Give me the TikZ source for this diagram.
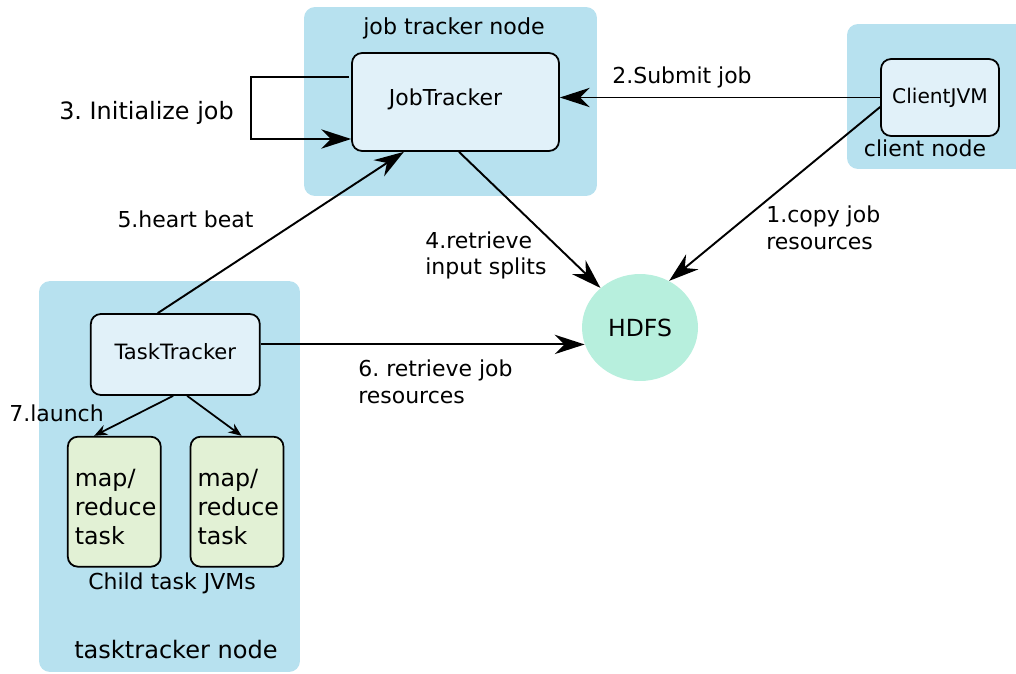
\documentclass[tikz,border=0pt]{standalone}
\usepackage{fontspec}
\setmainfont{DejaVu Sans}
\usetikzlibrary{arrows.meta,shapes.geometric}
\definecolor{areablue}{HTML}{B7E1EF}
\definecolor{boxfill}{HTML}{E1F1F9}
\definecolor{hdfsfill}{HTML}{B7EFDD}
\definecolor{taskfill}{HTML}{E2F1D5}
\frenchspacing
\begin{document}
\begin{tikzpicture}[x=0.02cm,y=-0.02cm,
  area/.style={fill=areablue,rounded corners=0.22cm,inner sep=0pt},
  proc/.style={draw,line width=1pt,fill=boxfill,rounded corners=0.2cm,inner sep=0pt},
  lbl/.style={font=\fontsize{12.5}{15.2}\selectfont,inner sep=0pt},
  flow/.style={line width=1.1pt,-{Stealth[length=17pt,width=11pt,inset=5.5pt]}},
  spawn/.style={line width=1pt,-{Stealth[length=7.5pt,width=6pt,inset=2.5pt]}}]
\useasboundingbox (0,0) rectangle (1016,673);

\node[area,minimum width=5.86cm,minimum height=3.78cm] (jtarea) at (450.5,101.5) {};
\node[area,minimum width=3.66cm,minimum height=2.9cm] (clarea) at (938.5,96.5) {};
\node[area,minimum width=5.22cm,minimum height=7.82cm] (ttarea) at (169.5,476.5) {};

\node[lbl,font=\fontsize{12.6}{15}\selectfont] (jtname) at (454,28) {job tracker node};
\node[proc,minimum width=4.14cm,minimum height=1.96cm,font=\fontsize{12.5}{15}\selectfont] (jt) at (455.5,102) {JobTracker\hspace*{0.4cm}\rule[-0.2cm]{0pt}{0.2cm}};
\node[proc,minimum width=2.36cm,minimum height=1.54cm,font=\fontsize{11.5}{14}\selectfont] (cj) at (940,97.5) {ClientJVM};
\node[lbl] (clname) at (925,148) {client node};
\node[ellipse,fill=hdfsfill,minimum width=2.32cm,minimum height=2.14cm,inner sep=0pt,font=\fontsize{13.4}{16}\selectfont] (hdfs) at (640,327.5) {HDFS};
\node[proc,minimum width=3.38cm,minimum height=1.62cm,font=\fontsize{12}{15}\selectfont] (tt) at (175.3,354.5) {TaskTracker\rule[-0.14cm]{0pt}{0.14cm}};
\foreach \i/\x in {1/114.3,2/237}
  \node[proc,fill=taskfill,minimum width=1.86cm,minimum height=2.6cm,text width=1.58cm,align=left,font=\fontsize{13.5}{16.5}\selectfont] (task\i) at (\x,501.7) {\rule{0pt}{15.5pt}map/\\reduce\\task};
\node[lbl] (childname) at (172,583) {Child task JVMs};
\node[lbl,font=\fontsize{13.7}{16}\selectfont] (ttname) at (176,650) {tasktracker node};

\node[lbl,font=\fontsize{13.6}{16}\selectfont] (initlbl) at (146.5,113) {3. Initialize job};
\node[lbl] (submitlbl) at (682,77) {2.Submit job};
\node[lbl,anchor=west,align=left] (copylbl) at (766,228) {1.copy job\\resources};
\node[lbl,anchor=west,align=left] (splitlbl) at (425,255.5) {4.retrieve\\input splits};
\node[lbl] (beatlbl) at (185.5,219) {5.heart beat};
\node[lbl,anchor=west,align=left] (reslbl) at (358,381.5) {6. retrieve job\\resources};
\node[lbl] (launchlbl) at (56.5,413) {7.launch};

\draw[flow] (cj.west) -- (cj.west -| jt.east);
\draw[flow] (cj.189) -- (hdfs.58);
\draw[flow] (jt.west) ++(-2,-25) -- ++(-98,0) -- ++(0,62) -- ++(100,0);
\draw[flow] (jt.-86) -- (hdfs.135);
\draw[flow] (tt.113) -- (jt.-136);
\draw[flow] (tt.east |- hdfs.197) -- (hdfs.197);
\draw[spawn] (tt.-93) -- (task1.107);
\draw[spawn] (tt.-74) -- (task2.86);
\end{tikzpicture}
\end{document}
